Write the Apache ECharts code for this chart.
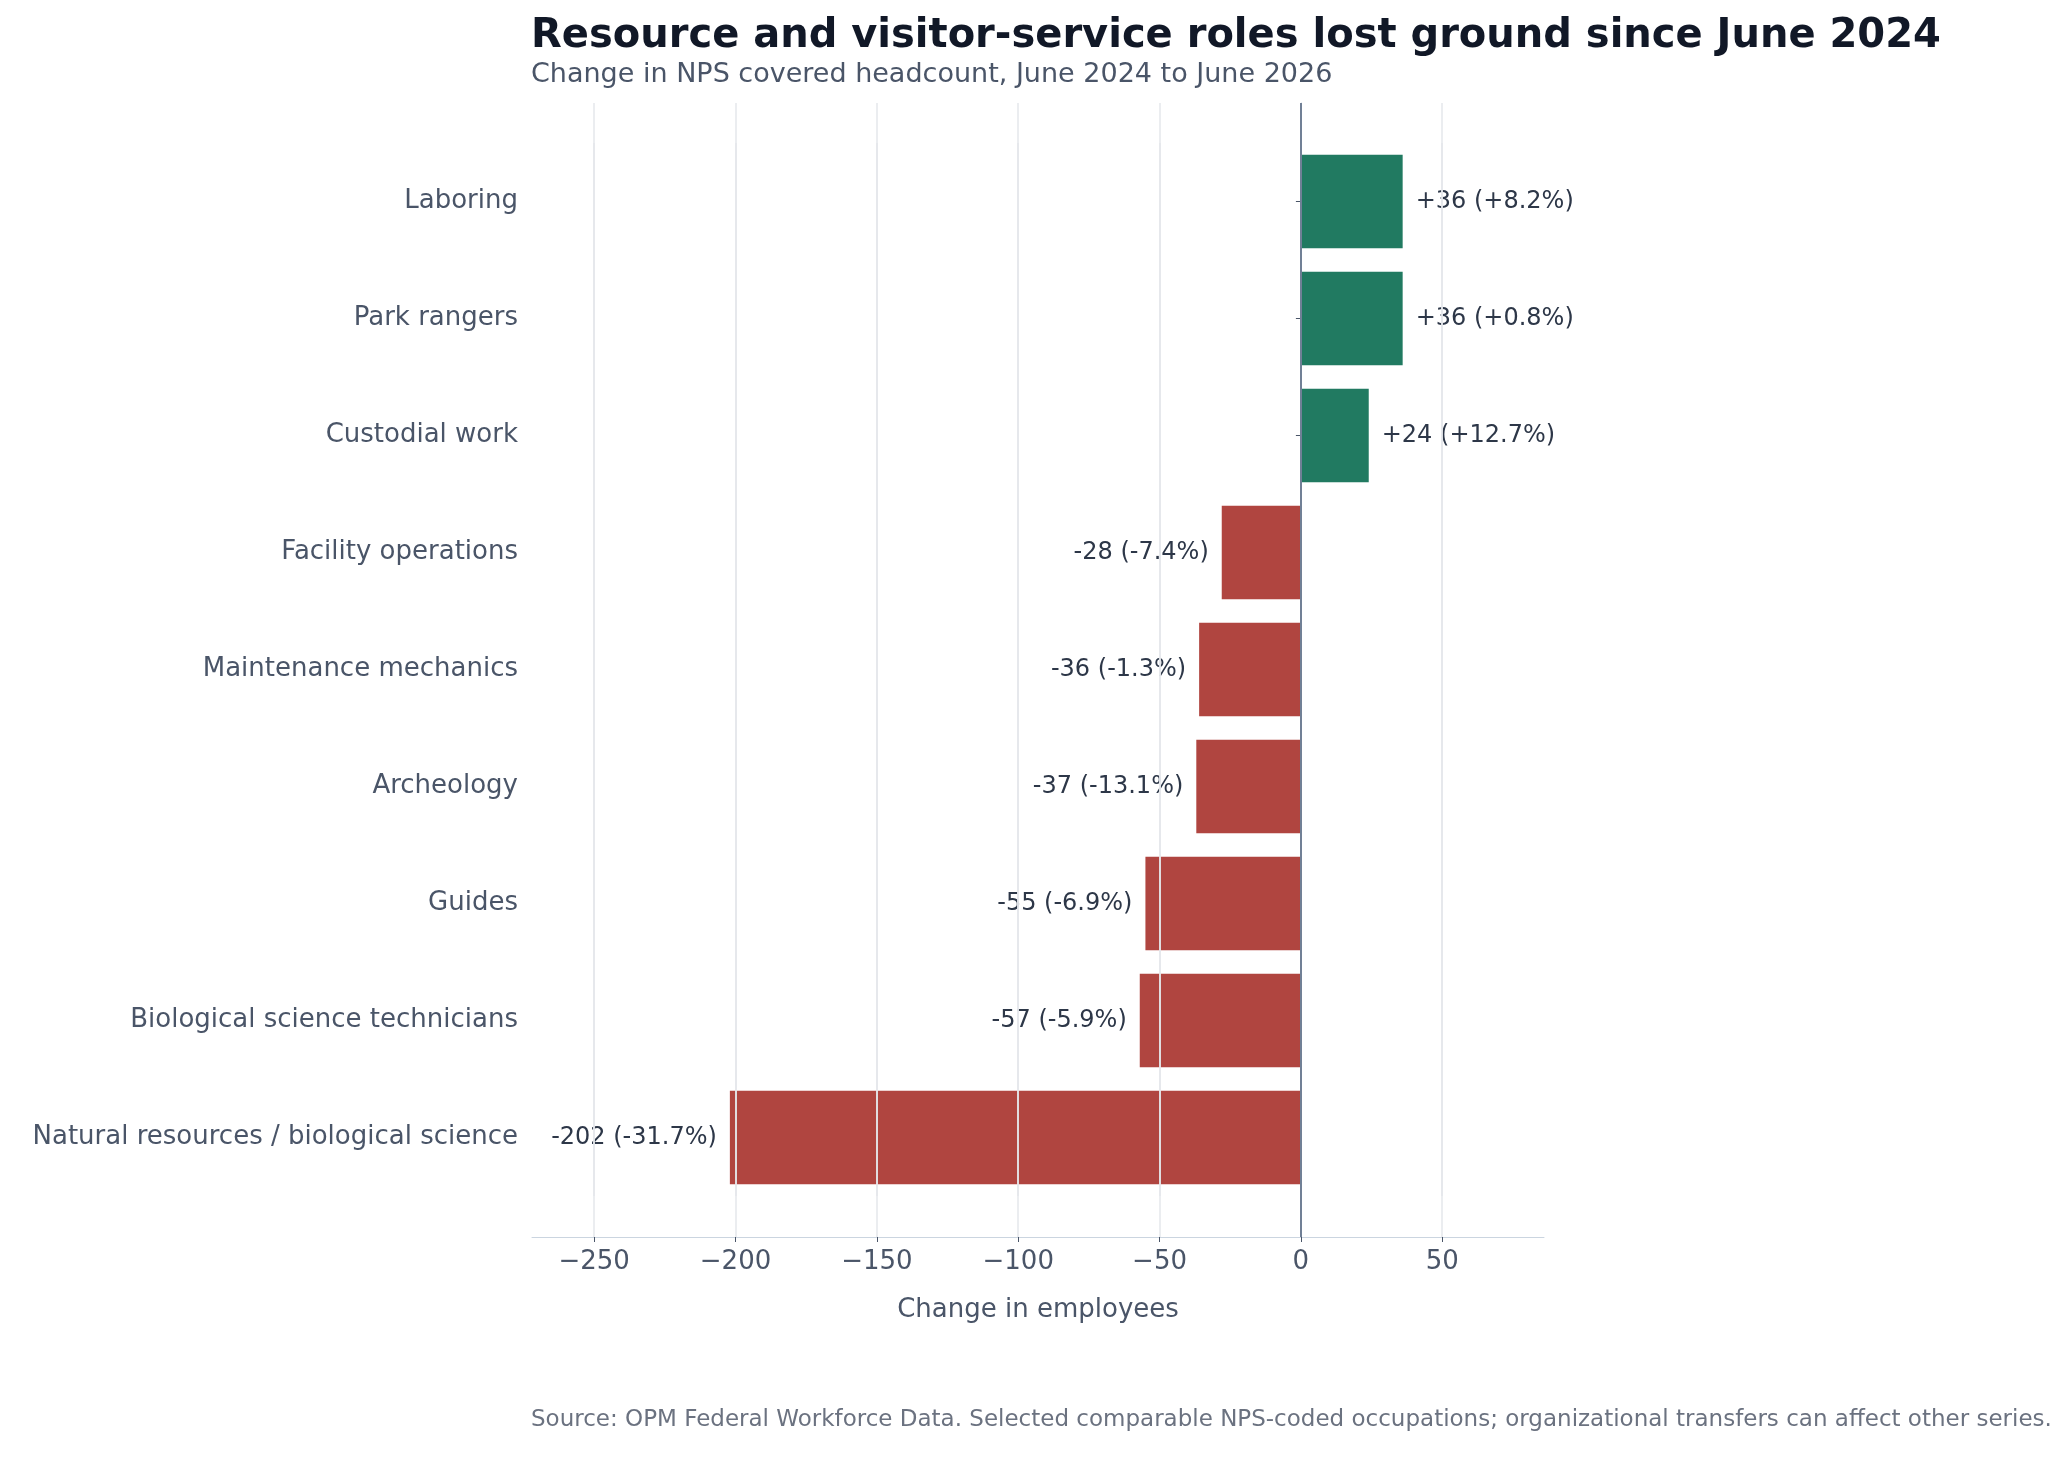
<!DOCTYPE html>
<html>
<head>
<meta charset="utf-8">
<script src="https://cdn.jsdelivr.net/npm/echarts@6/dist/echarts.min.js"></script>
<style>html,body{margin:0;background:#fff}#c{width:2063px;height:1461px}</style>
</head>
<body>
<div id="c"></div>
<script>
// occupations, top to bottom
const categories = ['Laboring', 'Park rangers', 'Custodial work', 'Facility operations',
  'Maintenance mechanics', 'Archeology', 'Guides', 'Biological science technicians',
  'Natural resources / biological science']
const changes = [36, 36, 24, -28, -36, -37, -55, -57, -202]
const pctLabels = ['+8.2%', '+0.8%', '+12.7%', '-7.4%', '-1.3%', '-13.1%', '-6.9%', '-5.9%', '-31.7%']
const xTicks = [-250, -200, -150, -100, -50, 0, 50]

const GREEN = '#217a61', RED = '#b04540', TXT = '#4a5568'
const XMIN = -272, XMAX = 86
const chart = echarts.init(document.getElementById('c'))

const barData = changes.map(function (v, i) {
  return {
    value: v,
    itemStyle: { color: v >= 0 ? GREEN : RED },
    label: {
      show: true,
      position: v >= 0 ? 'right' : 'left',
      distance: 13,
      formatter: (v > 0 ? '+' + v : '' + v) + ' (' + pctLabels[i] + ')'
    }
  }
})

chart.setOption({
  animation: false,
  title: [{
    text: 'Resource and visitor-service roles lost ground since June 2024',
    subtext: 'Change in NPS covered headcount, June 2024 to June 2026',
    left: 526, top: 12,
    textStyle: { fontFamily: 'DejaVu Sans', fontWeight: 'bold', fontSize: 40, color: '#111827' },
    subtextStyle: { fontFamily: 'DejaVu Sans', fontSize: 27, color: TXT },
    itemGap: 4
  }, {
    text: 'Source: OPM Federal Workforce Data. Selected comparable NPS-coded occupations; organizational transfers can affect other series.',
    left: 526, bottom: 24,
    textStyle: { fontFamily: 'DejaVu Sans', fontWeight: 'normal', fontSize: 23, color: '#6b7280' }
  }],
  // outer grid: frame, x axis, gridlines; inner grid: bars and category labels
  grid: [
    { left: 532, right: 519, top: 103, bottom: 224 },
    { left: 532, right: 519, top: 143, bottom: 265 }
  ],
  xAxis: [{
    gridIndex: 0, type: 'value', min: XMIN, max: XMAX,
    name: 'Change in employees', nameLocation: 'middle', nameGap: 60,
    nameTextStyle: { fontFamily: 'DejaVu Sans', fontSize: 26, color: TXT },
    axisLine: { show: true, lineStyle: { color: '#cbd5e0' } },
    axisTick: { show: true, customValues: xTicks, lineStyle: { color: TXT } },
    axisLabel: {
      fontFamily: 'DejaVu Sans', fontSize: 26, color: TXT, margin: 12,
      customValues: xTicks,
      formatter: function (v) { return v < 0 ? '\u2212' + Math.abs(v) : '' + v }
    },
    splitLine: { show: false }
  }, {
    gridIndex: 1, type: 'value', min: XMIN, max: XMAX, show: false
  }],
  yAxis: [{
    gridIndex: 0, type: 'value', min: 0, max: 1,
    axisLine: { show: true, lineStyle: { color: '#cbd5e0' } },
    axisTick: { show: false }, axisLabel: { show: false }, splitLine: { show: false }
  }, {
    gridIndex: 1, type: 'category', data: categories, inverse: true,
    axisLine: { show: false },
    axisTick: { show: true, alignWithLabel: true, lineStyle: { color: TXT } },
    axisLabel: { fontFamily: 'DejaVu Sans', fontSize: 26, color: TXT, margin: 14 }
  }],
  series: [{
    // gridlines spanning the full frame height
    type: 'line', xAxisIndex: 0, yAxisIndex: 0, data: [], silent: true,
    markLine: {
      silent: true, symbol: 'none', label: { show: false },
      lineStyle: { type: 'solid', color: '#e5e7eb', width: 1.5 },
      data: xTicks.map(function (t) {
        return t === 0 ? { xAxis: t, lineStyle: { color: '#718096', width: 2 } } : { xAxis: t }
      })
    }
  }, {
    type: 'bar', xAxisIndex: 1, yAxisIndex: 1, data: barData, barCategoryGap: '20%',
    label: { fontFamily: 'DejaVu Sans', fontSize: 24, color: '#2d3748' },
    markLine: {
      silent: true, symbol: 'none', z: 10, label: { show: false },
      lineStyle: { type: 'solid', color: '#e5e7eb', width: 1.5 },
      data: xTicks.filter(function (t) { return t !== 0 }).map(function (t) { return { xAxis: t } })
        .concat([{ xAxis: 0, lineStyle: { color: '#718096', width: 2 } }])
    }
  }]
})
</script>
</body>
</html>
